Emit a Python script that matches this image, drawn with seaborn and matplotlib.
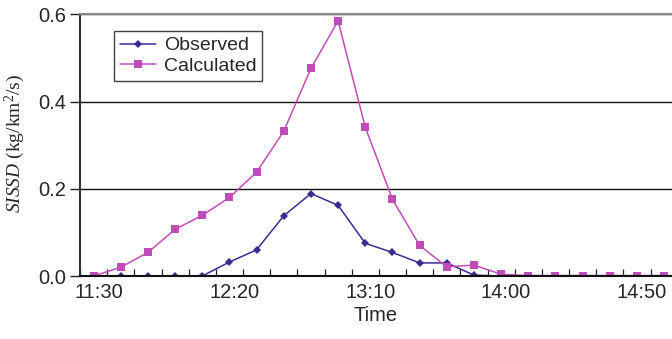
import matplotlib
matplotlib.use("Agg")
import matplotlib.pyplot as plt
import matplotlib.transforms as mtransforms
import seaborn as sns
import pandas as pd
import numpy as np

times = ["11:30", "11:40", "11:50", "12:00", "12:10", "12:20", "12:30", "12:40",
         "12:50", "13:00", "13:10", "13:20", "13:30", "13:40", "13:50", "14:00",
         "14:10", "14:20", "14:30", "14:40", "14:50", "15:00"]
observed = [0.0, 0.0, 0.0, 0.0, 0.0, 0.032, 0.060, 0.138, 0.189, 0.162, 0.075,
            0.054, 0.030, 0.030, 0.002, 0.0, 0.0, 0.0, 0.0, 0.0, 0.0, 0.0]
calculated = [0.0, 0.020, 0.054, 0.107, 0.139, 0.180, 0.238, 0.332, 0.476, 0.585,
              0.341, 0.176, 0.070, 0.021, 0.025, 0.004, 0.001, 0.001, 0.001,
              0.001, 0.001, 0.001]
tick_labels = ["11:30", "12:20", "13:10", "14:00", "14:50"]
y_ticks = [0.0, 0.2, 0.4, 0.6]

series_names = ["Observed", "Calculated"]
colors = {"Observed": "#3b2a92", "Calculated": "#c04db7"}

idx = np.arange(len(times))
df = pd.concat([
    pd.DataFrame({"idx": idx, "value": observed, "series": "Observed"}),
    pd.DataFrame({"idx": idx, "value": calculated, "series": "Calculated"}),
])

sns.set_style("white")
plt.rcParams["font.family"] = ["Liberation Sans", "DejaVu Sans"]
plt.rcParams["mathtext.fontset"] = "custom"
plt.rcParams["mathtext.it"] = "Liberation Serif:italic"
plt.rcParams["mathtext.rm"] = "Liberation Serif"

FS = 14.5

fig = plt.figure(figsize=(6.72, 3.39), dpi=100)
ax = fig.add_axes([80 / 672, 1 - 276 / 339, 1 - 80 / 672, (276 - 14.3) / 339])

sns.lineplot(data=df, x="idx", y="value", hue="series", style="series",
             hue_order=series_names, style_order=series_names,
             palette=colors, markers={"Observed": "D", "Calculated": "s"},
             dashes=False, linewidth=1.1, markersize=5.2, markeredgewidth=0,
             ax=ax, legend=True)
for line in ax.lines:
    if line.get_marker() == "D":
        line.set_markersize(4.5)

ax.set_ylim(0, 0.6)
ax.set_xlim(-0.5, 21.29)

ax.set_yticks(y_ticks)
ax.set_yticklabels([f"{v:.1f}" for v in y_ticks], fontsize=FS)
ax.tick_params(axis="y", direction="out", length=7, width=1.0, color="#222222",
               left=True, pad=3)

label_pos = [times.index(t) for t in tick_labels]
ax.set_xticks(label_pos)
ax.set_xticklabels(tick_labels, fontsize=FS)
ax.tick_params(axis="x", which="major", length=0, pad=5)
ax.set_xticks(np.arange(-0.5, 21.5, 1.0), minor=True)
ax.tick_params(axis="x", which="minor", direction="in", length=5, width=0.9,
               color="#222222", bottom=True)
offset = mtransforms.ScaledTranslation(5 / 100, 0, fig.dpi_scale_trans)
for lab in ax.get_xticklabels():
    lab.set_transform(lab.get_transform() + offset)

ax.yaxis.grid(True, color="#111111", linewidth=1.0)
ax.xaxis.grid(False)
ax.set_axisbelow(True)

ax.spines["right"].set_visible(False)
ax.spines["top"].set_color("#888888")
ax.spines["top"].set_linewidth(1.5)
ax.spines["left"].set_color("#333333")
ax.spines["left"].set_linewidth(1.5)
ax.spines["bottom"].set_color("#111111")
ax.spines["bottom"].set_linewidth(1.5)

ax.set_xlabel("Time", fontsize=FS, labelpad=3)
ax.set_ylabel("")
fig.text(15 / 672, 1 - 143 / 339, r"$\mathit{SISSD}$ (kg/km$^{2}$/s)",
         rotation=90, va="center", ha="center", fontsize=14,
         family="Liberation Serif")

leg = ax.legend(loc="upper left", bbox_to_anchor=((114 - 80) / 592, (276 - 31) / 261.7),
                frameon=True, fancybox=False, edgecolor="#111111", fontsize=14,
                handlelength=1.85, borderpad=0.3, labelspacing=0.15,
                handletextpad=0.42, borderaxespad=0)
leg.get_frame().set_linewidth(1.0)

fig.savefig("out.png", dpi=100)
